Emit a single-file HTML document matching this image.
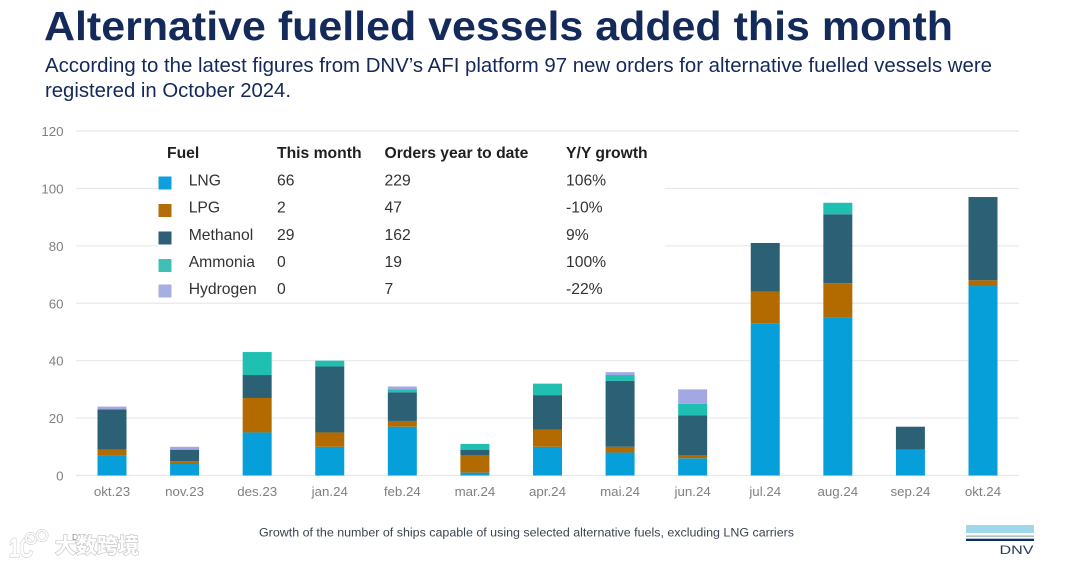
<!DOCTYPE html>
<html lang="en">
<head>
<meta charset="utf-8">
<title>Alternative fuelled vessels added this month</title>
<style>
html,body{margin:0;padding:0;background:#fff}
#page{position:relative;width:1080px;height:566px;overflow:hidden;background:#fff;font-family:"Liberation Sans",sans-serif}
svg{position:absolute;left:0;top:0}
</style>
</head>
<body>
<div id="page">
<svg id="chart" width="1080" height="566" viewBox="0 0 1080 566" style="filter:blur(.35px)"></svg>
</div>
<script>
const categories = ['okt.23','nov.23','des.23','jan.24','feb.24','mar.24','apr.24','mai.24','jun.24','jul.24','aug.24','sep.24','okt.24'];
const lngValues = [7,4,15,10,17,1,10,8,6,53,55,9,66];
const lpgValues = [2,1,12,5,2,6,6,2,1,11,12,0,2];
const methanolValues = [14,4,8,23,10,2,12,23,14,17,24,8,29];
const ammoniaValues = [0,0,8,2,1,2,4,2,4,0,4,0,0];
const hydrogenValues = [1,1,0,0,1,0,0,1,5,0,0,0,0];
const yTicks = [0,20,40,60,80,100,120];
const tableHeaders = ['Fuel','This month','Orders year to date','Y/Y growth'];
const fuelNames = ['LNG','LPG','Methanol','Ammonia','Hydrogen'];
const thisMonth = ['66','2','29','0','0'];
const yearToDate = ['229','47','162','19','7'];
const yoyGrowth = ['106%','-10%','9%','100%','-22%'];

const NS = 'http://www.w3.org/2000/svg';
const svg = document.getElementById('chart');
const colors = ['#069fd9','#b36b00','#2c6074','#1fbfb2','#a3a8e4'];
const swatchColors = ['#0f9fdc','#b36d0a','#2d5f76','#40c0b4','#a6aee2'];
const series = [lngValues,lpgValues,methanolValues,ammoniaValues,hydrogenValues];
const seriesKeys = ['lng','lpg','methanol','ammonia','hydrogen'];
const plotLeft = 76, plotRight = 1019, y0 = 475.5, yMaxPx = 131, yMax = 120;
const firstCenter = 112, lastCenter = 983, barW = 29;
const yScale = v => y0 - v / yMax * (y0 - yMaxPx);
const xScale = i => firstCenter + i * (lastCenter - firstCenter) / (categories.length - 1);
const tableFont = 15.7;

function make(tag, attrs, text) {
  const el = document.createElementNS(NS, tag);
  for (const k in attrs) el.setAttribute(k, attrs[k]);
  if (text !== undefined) el.textContent = text;
  svg.appendChild(el);
  return el;
}

// gridlines and y tick labels
yTicks.forEach(t => {
  const line = make('line', {x1: plotLeft, x2: plotRight, y1: yScale(t), y2: yScale(t), stroke: '#e8e8ea', 'stroke-width': 1.2});
  
  
  const label = make('text', {x: 63.5, y: yScale(t) + 5, 'text-anchor': 'end', 'font-size': 13.3, fill: '#808080'}, t);
  
  
});

// white panel behind the table
const panel = make('rect', {x: 158, y: 140, width: 507, height: 162, fill: '#fff'});



// stacked bars
categories.forEach((c, i) => {
  let acc = 0;
  series.forEach((vals, s) => {
    const v = vals[i];
    if (v > 0) {
      const top = yScale(acc + v), bot = yScale(acc);
      const r = make('rect', {x: xScale(i) - barW / 2, y: top, width: barW, height: bot - top, fill: colors[s]});
      
      
    }
    acc += v;
  });
  const label = make('text', {x: xScale(i), y: 496, 'text-anchor': 'middle', 'font-size': 13.3, fill: '#808080'}, c);
  
  
});

// table
const colX = [167, 277, 384.5, 566];
tableHeaders.forEach((h, i) => {
  const t = make('text', {x: colX[i], y: 158, 'font-size': tableFont, 'font-weight': 700, fill: '#1f1f1f'}, h);
  
  
});
const rowY = [185.5, 212.7, 240, 267, 294];
const swatchY = [176.5, 204, 231.5, 259, 284.5];
fuelNames.forEach((f, i) => {
  const sw = make('rect', {x: 158.5, y: swatchY[i], width: 13, height: 13, fill: swatchColors[i]});
  
  
  const name = make('text', {x: 188.7, y: rowY[i], 'font-size': tableFont, fill: '#333'}, f);
  
  
  const a = make('text', {x: colX[1], y: rowY[i], 'font-size': tableFont, fill: '#333'}, thisMonth[i]);
  
  
  const b = make('text', {x: colX[2], y: rowY[i], 'font-size': tableFont, fill: '#333'}, yearToDate[i]);
  
  
  const g = make('text', {x: colX[3], y: rowY[i], 'font-size': tableFont, fill: '#333'}, yoyGrowth[i]);
  
  
});

// heading
const title = make('text', {x: 44, y: 40, 'font-size': 41, 'font-weight': 700, fill: '#132a5a', textLength: 909, lengthAdjust: 'spacingAndGlyphs'}, 'Alternative fuelled vessels added this month');


const sub1 = make('text', {x: 45, y: 72, 'font-size': 20, fill: '#14295a', textLength: 947, lengthAdjust: 'spacingAndGlyphs'}, 'According to the latest figures from DNV\u2019s AFI platform 97 new orders for alternative fuelled vessels were');


const sub2 = make('text', {x: 45, y: 97, 'font-size': 20, fill: '#14295a', textLength: 246, lengthAdjust: 'spacingAndGlyphs'}, 'registered in October 2024.');



// caption
const cap = make('text', {x: 259, y: 536.5, 'font-size': 12.4, fill: '#3c4450', textLength: 535, lengthAdjust: 'spacingAndGlyphs'}, 'Growth of the number of ships capable of using selected alternative fuels, excluding LNG carriers');



// DNV logo
const logoParts = [[966,525,68,8,'#a0d9ec'],[966,535.5,68,1.3,'#9cb3a6'],[966,538.7,68,2.3,'#0f2f6a']];
logoParts.forEach((p, i) => {
  const r = make('rect', {x: p[0], y: p[1], width: p[2], height: p[3], fill: p[4]});
  
  
});
const logoText = make('text', {x: 999.5, y: 554, 'font-size': 11.5, fill: '#2a3a55', textLength: 34, lengthAdjust: 'spacingAndGlyphs'}, 'DNV');



// small footer text and watermark
const foot = make('text', {x: 72, y: 540, 'font-size': 8.5, fill: '#888'}, 'DNV');


const wmIcon = make('text', {x: 9, y: 557, 'font-size': 27, 'font-weight': 700, fill: '#fff', stroke: '#d4d4d4', 'stroke-width': 1.6, 'paint-order': 'stroke', textLength: 24, lengthAdjust: 'spacingAndGlyphs'}, '1C');


const wmDots = [[31, 538.5], [42, 535.5]];
wmDots.forEach((d, i) => {
  const halo = make('circle', {cx: d[0], cy: d[1], r: 5, fill: 'none', stroke: '#d4d4d4', 'stroke-width': 3});
  
  
  const ring = make('circle', {cx: d[0], cy: d[1], r: 5, fill: 'none', stroke: '#fff', 'stroke-width': 1.6});
  
  
});
const wm = make('text', {x: 55, y: 553, 'font-size': 21, 'font-weight': 700, fill: '#fff', stroke: '#cfcfcf', 'stroke-width': 1.6, 'paint-order': 'stroke', style: 'font-family:"Liberation Sans","Noto Sans CJK SC",sans-serif'}, '大数跨境');


</script>
</body>
</html>
